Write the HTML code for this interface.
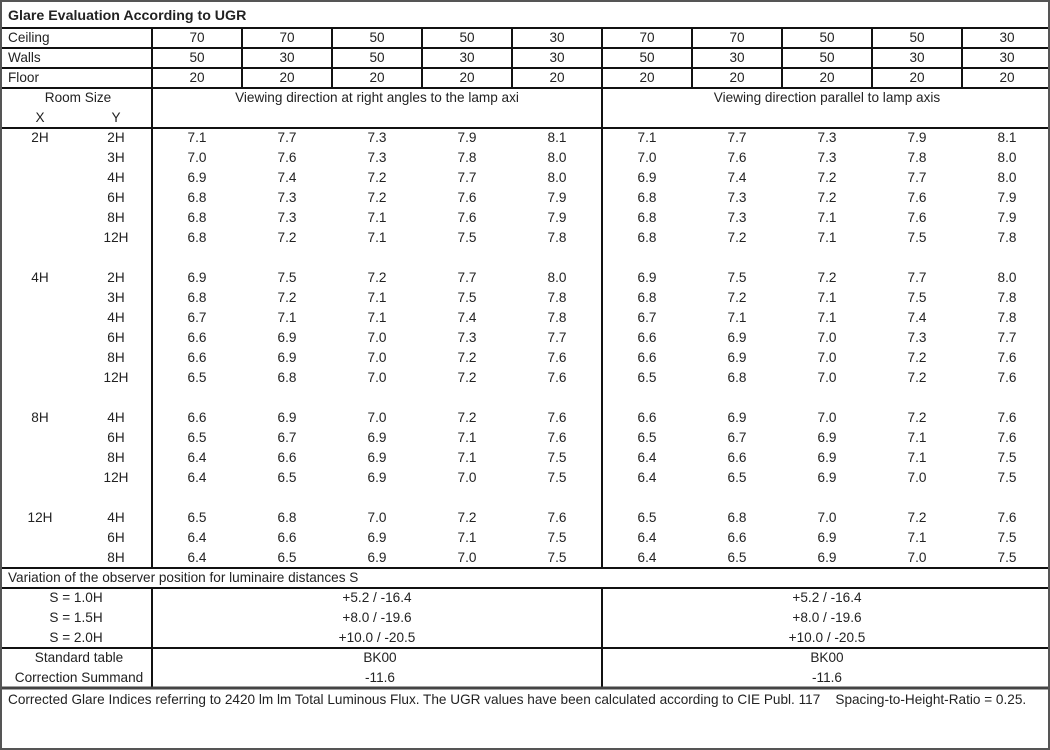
<!DOCTYPE html>
<html><head><meta charset="utf-8"><style>
body{margin:0;background:#fff;}
#w{position:relative;width:1050px;height:750px;overflow:hidden;font-family:"Liberation Sans","DejaVu Sans",sans-serif;font-size:13.6px;color:#222;}
.r{position:absolute;left:0;height:20px;line-height:20px;display:flex;white-space:nowrap}
.r span{display:block;text-align:center;flex:none}
.x{width:80px}.y{width:72px}.v{width:90px}
t{position:absolute;line-height:20px;white-space:nowrap}
</style></head><body><div id="w">
<svg width="1050" height="750" style="position:absolute;left:0;top:0">
<g stroke="#111" stroke-width="2" fill="none">
<line x1="0" y1="28" x2="1050" y2="28"/>
<line x1="0" y1="48" x2="1050" y2="48"/>
<line x1="0" y1="68" x2="1050" y2="68"/>
<line x1="0" y1="88" x2="1050" y2="88"/>
<line x1="0" y1="128" x2="1050" y2="128"/>
<line x1="0" y1="568" x2="1050" y2="568"/>
<line x1="0" y1="588" x2="1050" y2="588"/>
<line x1="0" y1="648" x2="1050" y2="648"/>
<line x1="152" y1="28" x2="152" y2="568"/>
<line x1="152" y1="588" x2="152" y2="688"/>
<line x1="602" y1="88" x2="602" y2="568"/>
<line x1="602" y1="588" x2="602" y2="688"/>
<line x1="242" y1="28" x2="242" y2="88"/><line x1="332" y1="28" x2="332" y2="88"/><line x1="422" y1="28" x2="422" y2="88"/><line x1="512" y1="28" x2="512" y2="88"/><line x1="602" y1="28" x2="602" y2="88"/><line x1="692" y1="28" x2="692" y2="88"/><line x1="782" y1="28" x2="782" y2="88"/><line x1="872" y1="28" x2="872" y2="88"/><line x1="962" y1="28" x2="962" y2="88"/>
</g>
<line x1="0" y1="688" x2="1050" y2="688" stroke="#444" stroke-width="3"/>
<rect x="1" y="1" width="1048" height="748" stroke="#555" stroke-width="2" fill="none"/>
</svg>
<t style="left:8px;top:6px;font-weight:bold;font-size:14.2px">Glare Evaluation According to UGR</t>
<div class="r" style="top:28px"><span style="width:152px;text-align:left;padding-left:8px;box-sizing:border-box">Ceiling</span><span class="v">70</span><span class="v">70</span><span class="v">50</span><span class="v">50</span><span class="v">30</span><span class="v">70</span><span class="v">70</span><span class="v">50</span><span class="v">50</span><span class="v">30</span></div>
<div class="r" style="top:48px"><span style="width:152px;text-align:left;padding-left:8px;box-sizing:border-box">Walls</span><span class="v">50</span><span class="v">30</span><span class="v">50</span><span class="v">30</span><span class="v">30</span><span class="v">50</span><span class="v">30</span><span class="v">50</span><span class="v">30</span><span class="v">30</span></div>
<div class="r" style="top:68px"><span style="width:152px;text-align:left;padding-left:8px;box-sizing:border-box">Floor</span><span class="v">20</span><span class="v">20</span><span class="v">20</span><span class="v">20</span><span class="v">20</span><span class="v">20</span><span class="v">20</span><span class="v">20</span><span class="v">20</span><span class="v">20</span></div>
<div class="r" style="top:88px"><span style="width:152px;padding-left:4px;box-sizing:border-box">Room Size</span><span style="width:450px">Viewing direction at right angles to the lamp axi</span><span style="width:450px">Viewing direction parallel to lamp axis</span></div>
<div class="r" style="top:108px"><span class="x">X</span><span class="y">Y</span></div>

<div class="r" style="top:128px"><span class="x">2H</span><span class="y">2H</span><span class="v">7.1</span><span class="v">7.7</span><span class="v">7.3</span><span class="v">7.9</span><span class="v">8.1</span><span class="v">7.1</span><span class="v">7.7</span><span class="v">7.3</span><span class="v">7.9</span><span class="v">8.1</span></div>
<div class="r" style="top:148px"><span class="x"></span><span class="y">3H</span><span class="v">7.0</span><span class="v">7.6</span><span class="v">7.3</span><span class="v">7.8</span><span class="v">8.0</span><span class="v">7.0</span><span class="v">7.6</span><span class="v">7.3</span><span class="v">7.8</span><span class="v">8.0</span></div>
<div class="r" style="top:168px"><span class="x"></span><span class="y">4H</span><span class="v">6.9</span><span class="v">7.4</span><span class="v">7.2</span><span class="v">7.7</span><span class="v">8.0</span><span class="v">6.9</span><span class="v">7.4</span><span class="v">7.2</span><span class="v">7.7</span><span class="v">8.0</span></div>
<div class="r" style="top:188px"><span class="x"></span><span class="y">6H</span><span class="v">6.8</span><span class="v">7.3</span><span class="v">7.2</span><span class="v">7.6</span><span class="v">7.9</span><span class="v">6.8</span><span class="v">7.3</span><span class="v">7.2</span><span class="v">7.6</span><span class="v">7.9</span></div>
<div class="r" style="top:208px"><span class="x"></span><span class="y">8H</span><span class="v">6.8</span><span class="v">7.3</span><span class="v">7.1</span><span class="v">7.6</span><span class="v">7.9</span><span class="v">6.8</span><span class="v">7.3</span><span class="v">7.1</span><span class="v">7.6</span><span class="v">7.9</span></div>
<div class="r" style="top:228px"><span class="x"></span><span class="y">12H</span><span class="v">6.8</span><span class="v">7.2</span><span class="v">7.1</span><span class="v">7.5</span><span class="v">7.8</span><span class="v">6.8</span><span class="v">7.2</span><span class="v">7.1</span><span class="v">7.5</span><span class="v">7.8</span></div>

<div class="r" style="top:268px"><span class="x">4H</span><span class="y">2H</span><span class="v">6.9</span><span class="v">7.5</span><span class="v">7.2</span><span class="v">7.7</span><span class="v">8.0</span><span class="v">6.9</span><span class="v">7.5</span><span class="v">7.2</span><span class="v">7.7</span><span class="v">8.0</span></div>
<div class="r" style="top:288px"><span class="x"></span><span class="y">3H</span><span class="v">6.8</span><span class="v">7.2</span><span class="v">7.1</span><span class="v">7.5</span><span class="v">7.8</span><span class="v">6.8</span><span class="v">7.2</span><span class="v">7.1</span><span class="v">7.5</span><span class="v">7.8</span></div>
<div class="r" style="top:308px"><span class="x"></span><span class="y">4H</span><span class="v">6.7</span><span class="v">7.1</span><span class="v">7.1</span><span class="v">7.4</span><span class="v">7.8</span><span class="v">6.7</span><span class="v">7.1</span><span class="v">7.1</span><span class="v">7.4</span><span class="v">7.8</span></div>
<div class="r" style="top:328px"><span class="x"></span><span class="y">6H</span><span class="v">6.6</span><span class="v">6.9</span><span class="v">7.0</span><span class="v">7.3</span><span class="v">7.7</span><span class="v">6.6</span><span class="v">6.9</span><span class="v">7.0</span><span class="v">7.3</span><span class="v">7.7</span></div>
<div class="r" style="top:348px"><span class="x"></span><span class="y">8H</span><span class="v">6.6</span><span class="v">6.9</span><span class="v">7.0</span><span class="v">7.2</span><span class="v">7.6</span><span class="v">6.6</span><span class="v">6.9</span><span class="v">7.0</span><span class="v">7.2</span><span class="v">7.6</span></div>
<div class="r" style="top:368px"><span class="x"></span><span class="y">12H</span><span class="v">6.5</span><span class="v">6.8</span><span class="v">7.0</span><span class="v">7.2</span><span class="v">7.6</span><span class="v">6.5</span><span class="v">6.8</span><span class="v">7.0</span><span class="v">7.2</span><span class="v">7.6</span></div>

<div class="r" style="top:408px"><span class="x">8H</span><span class="y">4H</span><span class="v">6.6</span><span class="v">6.9</span><span class="v">7.0</span><span class="v">7.2</span><span class="v">7.6</span><span class="v">6.6</span><span class="v">6.9</span><span class="v">7.0</span><span class="v">7.2</span><span class="v">7.6</span></div>
<div class="r" style="top:428px"><span class="x"></span><span class="y">6H</span><span class="v">6.5</span><span class="v">6.7</span><span class="v">6.9</span><span class="v">7.1</span><span class="v">7.6</span><span class="v">6.5</span><span class="v">6.7</span><span class="v">6.9</span><span class="v">7.1</span><span class="v">7.6</span></div>
<div class="r" style="top:448px"><span class="x"></span><span class="y">8H</span><span class="v">6.4</span><span class="v">6.6</span><span class="v">6.9</span><span class="v">7.1</span><span class="v">7.5</span><span class="v">6.4</span><span class="v">6.6</span><span class="v">6.9</span><span class="v">7.1</span><span class="v">7.5</span></div>
<div class="r" style="top:468px"><span class="x"></span><span class="y">12H</span><span class="v">6.4</span><span class="v">6.5</span><span class="v">6.9</span><span class="v">7.0</span><span class="v">7.5</span><span class="v">6.4</span><span class="v">6.5</span><span class="v">6.9</span><span class="v">7.0</span><span class="v">7.5</span></div>

<div class="r" style="top:508px"><span class="x">12H</span><span class="y">4H</span><span class="v">6.5</span><span class="v">6.8</span><span class="v">7.0</span><span class="v">7.2</span><span class="v">7.6</span><span class="v">6.5</span><span class="v">6.8</span><span class="v">7.0</span><span class="v">7.2</span><span class="v">7.6</span></div>
<div class="r" style="top:528px"><span class="x"></span><span class="y">6H</span><span class="v">6.4</span><span class="v">6.6</span><span class="v">6.9</span><span class="v">7.1</span><span class="v">7.5</span><span class="v">6.4</span><span class="v">6.6</span><span class="v">6.9</span><span class="v">7.1</span><span class="v">7.5</span></div>
<div class="r" style="top:548px"><span class="x"></span><span class="y">8H</span><span class="v">6.4</span><span class="v">6.5</span><span class="v">6.9</span><span class="v">7.0</span><span class="v">7.5</span><span class="v">6.4</span><span class="v">6.5</span><span class="v">6.9</span><span class="v">7.0</span><span class="v">7.5</span></div>

<t style="left:8px;top:568px">Variation of the observer position for luminaire distances S</t>
<div class="r" style="top:588px"><span style="width:152px">S = 1.0H</span><span style="width:450px">+5.2 / -16.4</span><span style="width:450px">+5.2 / -16.4</span></div>
<div class="r" style="top:608px"><span style="width:152px">S = 1.5H</span><span style="width:450px">+8.0 / -19.6</span><span style="width:450px">+8.0 / -19.6</span></div>
<div class="r" style="top:628px"><span style="width:152px">S = 2.0H</span><span style="width:450px">+10.0 / -20.5</span><span style="width:450px">+10.0 / -20.5</span></div>
<div class="r" style="top:648px"><span style="width:158px">Standard table</span><span style="width:444px">BK00</span><span style="width:450px">BK00</span></div>
<div class="r" style="top:668px"><span style="width:158px">Correction Summand</span><span style="width:444px">-11.6</span><span style="width:450px">-11.6</span></div>
<t style="left:8px;top:690px">Corrected Glare Indices referring to 2420 lm lm Total Luminous Flux. The UGR values have been calculated according to CIE Publ. 117&nbsp;&nbsp;&nbsp;&nbsp;Spacing-to-Height-Ratio = 0.25.</t>
</div></body></html>
